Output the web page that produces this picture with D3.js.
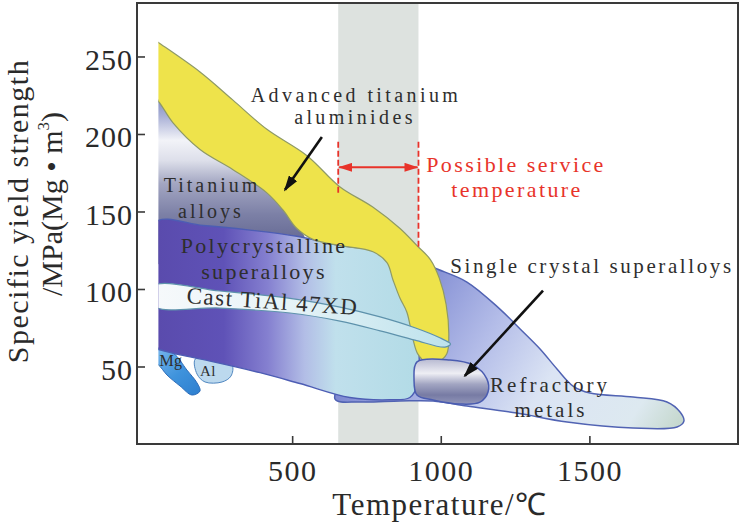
<!DOCTYPE html>
<html>
<head>
<meta charset="utf-8">
<script src="https://cdn.jsdelivr.net/npm/d3@7"></script>
<style>
body { margin: 0; background: #fff; }
svg text { font-family: "Liberation Serif", "Times New Roman", serif; }
</style>
</head>
<body>
<svg id="chart" width="742" height="526"></svg>
<script>
// axis ticks
const tempTicks = [500, 1000, 1500]
const strengthTicks = [50, 100, 150, 200, 250]

// possible service temperature window (deg C)
const serviceRange = [655, 925]
const serviceArrowLevel = 178.5
const serviceDashTop = 195
const serviceDashBottom = [162, 127]

// material fields as outlines: [temperature, specific yield strength]
const advancedTiAl = [[35,261],[50,259],[190,240],[300,222],[415,203],[550,186],[660,166],[770,153],[863,139],[920,128],[965,119],[995,107],[1018,90],[1027,70],[1020,58],[990,53],[950,53],[923,58],[906,68],[886,85],[863,94],[839,106],[819,117],[772,124],[661,128],[570,132],[516,139],[469,151],[415,162],[301,177],[190,190],[100,207],[50,221],[35,223]]
const titaniumAlloys = [[35,224],[100,209],[190,192],[301,179],[415,164],[469,153],[530,138],[545,128],[400,118],[200,118],[35,118]]
const polySuperalloys = [[35,142.5],[200,141],[358,138],[516,134],[661,128],[796,125],[863,121],[903,110],[923,94],[927,61],[923,39],[896,30],[829,28.5],[694,30],[526,39],[392,46],[224,53.5],[123,57.5],[50,61],[35,61.5]]
const castTiAl = [[35,102],[257,98.7],[493,94],[661,88.3],[796,82],[913,75],[997,68.5],[1033,64.5],[1014,62.5],[913,67],[796,73],[661,79.3],[493,84.5],[257,87.7],[35,89]]
const singleCrystal = [[920,53],[1031,54.2],[1108,51],[1155,42],[1159,33.5],[1132,27],[1065,25.8],[974,28.4],[920,31.6],[910,42]]
const refractoryMetals = [[913,120],[974,114],[1088,104.5],[1199,87],[1267,74.2],[1334,61.3],[1391,48.4],[1445,37.4],[1502,32.9],[1647,30.3],[1761,27.1],[1805,20.6],[1818,14.8],[1795,11],[1647,10.3],[1425,14.2],[1256,20],[1088,24.5],[974,27.7],[863,27.7],[728,27.1],[644,29],[796,74]]
const mgAlloys = [[35,61.5],[99,58.7],[146,47.7],[180,39.4],[190,34.2],[163,31.6],[123,37.4],[79,44.5],[50,51],[35,52]]
const alAlloys = [[174,54.8],[240,56.1],[298,50.9],[294,43.8],[264,40],[207,40],[180,45.1]]

const svg = d3.select('#chart')
const x = d3.scaleLinear().domain([-22, 2000]).range([137, 738])
const y = d3.scaleLinear().domain([0, 284.5]).range([444, 3])

const defs = svg.append('defs')
defs.append('clipPath').attr('id', 'plot')
  .append('rect')
  .attr('x', x(50)).attr('y', y(284.5))
  .attr('width', x(2000) - x(50)).attr('height', y(0) - y(284.5))

function grad(id, x1, y1, x2, y2, stops) {
  let g = defs.append('linearGradient').attr('id', id)
    .attr('gradientUnits', 'userSpaceOnUse')
    .attr('x1', x1).attr('y1', y1).attr('x2', x2).attr('y2', y2)
  stops.forEach(function (s) {
    g.append('stop').attr('offset', s[0]).attr('stop-color', s[1])
  })
}

grad('gTi', 0, y(222), 0, y(135), [[0,'#8590c4'],[0.12,'#a9b0d6'],[0.3,'#f2f3f8'],[0.45,'#dddfea'],[0.62,'#a3a6c2'],[0.85,'#7c80a6'],[1,'#6b6f98']])
grad('gPoly', x(50), 0, x(927), 0, [[0,'#5a4bad'],[0.25,'#5f52b7'],[0.42,'#8580d0'],[0.56,'#b2bde6'],[0.68,'#c0e0ec'],[1,'#b2dbe6']])
grad('gCast', x(50), 0, x(1033), 0, [[0,'#f6f9fb'],[0.45,'#e6f3f7'],[1,'#bde2ec']])
grad('gRef', x(950), y(118), x(1810), y(12), [[0,'#7f8ad2'],[0.3,'#b3bce8'],[0.55,'#dbe4f4'],[0.85,'#dde9f0'],[1,'#c4d7cc']])
grad('gSC', 0, y(54), 0, y(26), [[0,'#bcbed4'],[0.3,'#eeeef4'],[0.55,'#a2a5c2'],[0.8,'#777ba4'],[1,'#9094b8']])
grad('gMg', x(60), y(60), x(180), y(32), [[0,'#6fb1ea'],[0.5,'#3f93dc'],[1,'#2f80d0']])

// arrow heads
defs.append('marker').attr('id', 'headBlack')
  .attr('markerUnits', 'userSpaceOnUse')
  .attr('markerWidth', 16).attr('markerHeight', 10)
  .attr('refX', 14).attr('refY', 5).attr('orient', 'auto')
  .append('path').attr('d', 'M0,0L16,5L0,10Z').attr('fill', '#111')
defs.append('marker').attr('id', 'headRed')
  .attr('markerUnits', 'userSpaceOnUse')
  .attr('markerWidth', 14).attr('markerHeight', 9)
  .attr('refX', 13).attr('refY', 4.5).attr('orient', 'auto-start-reverse')
  .append('path').attr('d', 'M0,0L14,4.5L0,9Z').attr('fill', '#e8332a')

// grey service band
svg.append('rect')
  .attr('x', x(serviceRange[0])).attr('y', y(284.5))
  .attr('width', x(serviceRange[1]) - x(serviceRange[0]))
  .attr('height', y(0) - y(284.5))
  .attr('fill', '#dde2df')

const area = d3.line()
  .x(function (d) { return x(d[0]) })
  .y(function (d) { return y(d[1]) })
  .curve(d3.curveCatmullRomClosed.alpha(0.5))

const fields = svg.append('g').attr('clip-path', 'url(#plot)')
function field(data, fill, stroke, sw) {
  fields.append('path').datum(data)
    .attr('d', area)
    .attr('fill', fill)
    .attr('stroke', stroke)
    .attr('stroke-width', sw)
    .attr('stroke-linejoin', 'round')
}

field(refractoryMetals, 'url(#gRef)', '#5163b3', 1.5)
field(mgAlloys, 'url(#gMg)', '#2d6cb8', 1)
field(alAlloys, '#bcd9ee', '#4f86c0', 1)
field(titaniumAlloys, 'url(#gTi)', 'none', 0)
field(polySuperalloys, 'url(#gPoly)', '#4d5db4', 1.4)
field(advancedTiAl, '#eee34b', '#8f9a66', 1.2)
field(castTiAl, 'url(#gCast)', '#5e92ac', 1.2)
field(singleCrystal, 'url(#gSC)', '#4a5cb0', 1.5)

// service temperature markers
const red = '#e8332a'
serviceRange.forEach(function (t, i) {
  svg.append('line')
    .attr('x1', x(t)).attr('x2', x(t))
    .attr('y1', y(serviceDashTop)).attr('y2', y(serviceDashBottom[i]))
    .attr('stroke', red).attr('stroke-width', 1.8)
    .attr('stroke-dasharray', '6,3')
})
svg.append('line')
  .attr('x1', x(serviceRange[0]) + 1).attr('x2', x(serviceRange[1]) - 1)
  .attr('y1', y(serviceArrowLevel)).attr('y2', y(serviceArrowLevel))
  .attr('stroke', red).attr('stroke-width', 2)
  .attr('marker-start', 'url(#headRed)').attr('marker-end', 'url(#headRed)')

// pointer arrows
function pointer(t1, v1, t2, v2) {
  svg.append('line')
    .attr('x1', x(t1)).attr('y1', y(v1))
    .attr('x2', x(t2)).attr('y2', y(v2))
    .attr('stroke', '#111').attr('stroke-width', 2.6)
    .attr('marker-end', 'url(#headBlack)')
}
pointer(600, 198, 476, 164)
pointer(1344, 99, 1081, 44)

// labels
function label(px, py, str, size, spacing, color, rot) {
  let t = svg.append('text')
    .attr('transform', 'translate(' + px + ',' + py + ')' + (rot ? ' rotate(' + rot + ')' : ''))
    .attr('text-anchor', 'middle')
    .attr('font-size', size)
    .attr('letter-spacing', spacing)
    .attr('fill', color || '#2e2e2e')
    .text(str)
  return t
}
label(356, 102, 'Advanced titanium', 20, 3.4)
label(355, 124, 'aluminides', 20, 3.4)
label(212, 192, 'Titanium', 20, 3)
label(211, 218, 'alloys', 20, 3)
label(264, 253, 'Polycrystalline', 22, 2.3)
label(264, 279, 'superalloys', 22, 2.3)
label(272, 309, 'Cast TiAl 47XD', 23, 1.5, '#2e2e2e', 4)
label(171, 366, 'Mg', 16, 0.5)
label(208, 376, 'Al', 15, 0.5)
label(592, 273, 'Single crystal superalloys', 21, 2.6)
label(550, 392, 'Refractory', 21, 3)
label(551, 417, 'metals', 21, 3)
label(516, 172, 'Possible service', 22, 2.4, red)
label(517, 197, 'temperature', 22, 2.4, red)

// axes
svg.append('g')
  .attr('transform', 'translate(0,' + y(0) + ')')
  .call(d3.axisBottom(x).tickValues(tempTicks).tickFormat(d3.format('d')).tickSizeInner(-8).tickSizeOuter(0))
  .call(function (g) { g.select('.domain').remove() })
  .call(function (g) { g.selectAll('line').attr('stroke', '#3a3a3a').attr('stroke-width', 1.6) })
  .call(function (g) {
    g.selectAll('text').attr('y', 37).attr('dy', null)
      .attr('font-size', 30).attr('letter-spacing', 1.5)
      .attr('font-family', '"Liberation Serif", serif').attr('fill', '#2a2a2a')
  })

svg.append('g')
  .attr('transform', 'translate(' + x(-22) + ',0)')
  .call(d3.axisLeft(y).tickValues(strengthTicks).tickFormat(d3.format('d')).tickSizeInner(-8).tickSizeOuter(0).tickPadding(4))
  .call(function (g) { g.select('.domain').remove() })
  .call(function (g) { g.selectAll('line').attr('stroke', '#3a3a3a').attr('stroke-width', 1.6) })
  .call(function (g) {
    g.selectAll('text').attr('dy', '0.42em')
      .attr('font-size', 30).attr('letter-spacing', 1)
      .attr('font-family', '"Liberation Serif", serif').attr('fill', '#2a2a2a')
  })

// frame
svg.append('rect')
  .attr('x', x(-22)).attr('y', y(284.5))
  .attr('width', x(2000) - x(-22)).attr('height', y(0) - y(284.5))
  .attr('fill', 'none').attr('stroke', '#3a3a3a').attr('stroke-width', 2)

// axis titles
svg.append('text')
  .attr('transform', 'translate(440,515)')
  .attr('text-anchor', 'middle')
  .attr('font-size', 31).attr('letter-spacing', 1.5).attr('fill', '#2a2a2a')
  .text('Temperature/℃')

svg.append('text')
  .attr('transform', 'translate(28,211) rotate(-90)')
  .attr('text-anchor', 'middle')
  .attr('font-size', 30).attr('letter-spacing', 1.5).attr('fill', '#2a2a2a')
  .text('Specific yield strength')

let unit = svg.append('text')
  .attr('transform', 'translate(62,204) rotate(-90)')
  .attr('text-anchor', 'middle')
  .attr('font-size', 30).attr('fill', '#2a2a2a')
unit.append('tspan').text('/MPa(Mg • m')
unit.append('tspan').attr('font-size', 17).attr('dy', -13).text('3')
unit.append('tspan').attr('dy', 13).text(')')
</script>
</body>
</html>
